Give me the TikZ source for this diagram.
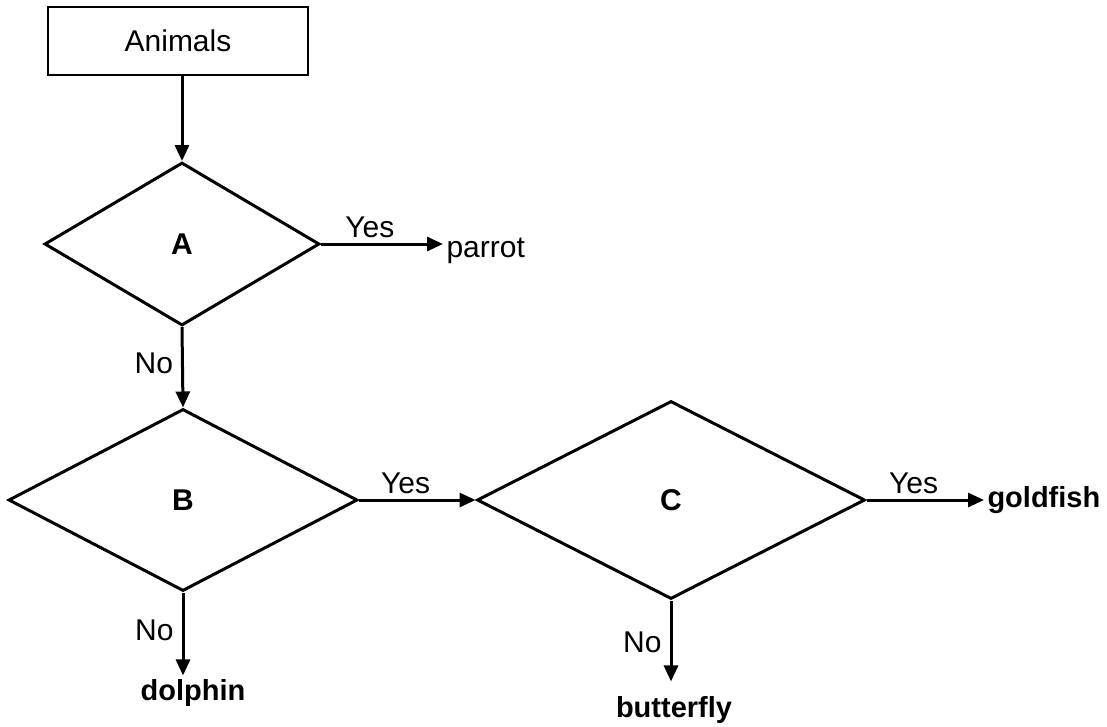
\documentclass[tikz,border=0pt]{standalone}
\usepackage{fontspec}
\setmainfont{Liberation Sans}
\usepackage{tikz}
\usetikzlibrary{positioning}
\usetikzlibrary{arrows.meta}
\usetikzlibrary{shapes,calc}

\begin{document}
\begin{tikzpicture}[x=1pt,y=-1pt,line width=3pt,
                    font=\fontsize{30}{36}\selectfont]
	\useasboundingbox (0,0) rectangle (1107,726);

	\node (animals) [draw, line width=2.6pt, minimum width=260pt, minimum height=68pt, inner sep=0pt] at (178,41) {Animals};

	\begin{scope}[every node/.style={diamond, draw, inner sep=0pt, font=\fontsize{30}{36}\selectfont\bfseries}]
	    \node (qA) [minimum width=275pt, minimum height=163pt] at (182,244) {A};
	    \node (qB) [minimum width=349pt, minimum height=182pt] at (183,500) {B};
	    \node (qC) [minimum width=388pt, minimum height=198pt] at (671,500) {C};
	\end{scope}

	\begin{scope}[every node/.style={inner sep=2pt, font=\fontsize{29}{35}\selectfont\bfseries}]
	    \node (parrot) [anchor=base west, font=\fontsize{30}{36}\selectfont] at (443,257) {parrot};
	    \node (goldfish) [anchor=base west] at (984,507) {goldfish};
	    \node (dolphin) [anchor=base] at (193,700) {dolphin};
	    \node (butterfly) [anchor=base] at (674,717) {butterfly};
	\end{scope}

	\begin{scope}[>={Triangle[length=16pt,width=14pt]},
	              every edge/.style={draw=black, line width=3pt},
	              yeslbl/.style={above, inner sep=5pt, pos=0.4},
	              nolbl/.style={left, inner sep=8pt, pos=0.45}]
    	\path [->] (animals.south -| qA.north) edge (qA.north);
    	\path [->] (qA.east) edge node[yeslbl] {Yes} (qA.east -| parrot.west);
    	\path [->] (qA.south) edge node[nolbl] {No} (qB.north);
    	\path [->] (qB.east) edge node[yeslbl] {Yes} (qC.west);
    	\path [->] (qB.south) edge node[nolbl] {No} (qB.south |- dolphin.north);
    	\path [->] (qC.east) edge node[yeslbl] {Yes} (qC.east -| goldfish.west);
    	\path [->] (qC.south) edge[shorten >=11pt] node[nolbl] {No} (qC.south |- butterfly.north);
	\end{scope}
\end{tikzpicture}
\end{document}
